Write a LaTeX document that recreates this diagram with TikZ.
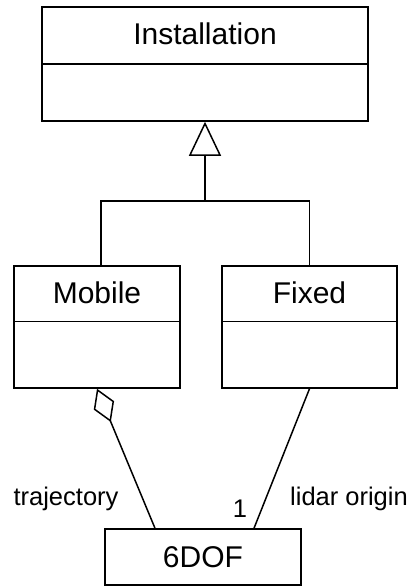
\documentclass[tikz,border=0pt]{standalone}
\usepackage{fontspec}
\setmainfont{Liberation Sans}
\usetikzlibrary{arrows.meta}

\begin{document}
\begin{tikzpicture}[x=1pt, y=-1pt, line width=1.5pt,
    classbox/.style={draw, rectangle, inner sep=0pt},
    classname/.style={font=\fontsize{30}{36}\selectfont, inner sep=0pt},
    rolelabel/.style={font=\fontsize{25.5}{30}\selectfont, inner sep=0pt, anchor=base}]
\useasboundingbox (0,0) rectangle (411,587);
% classes
\node[classbox, minimum width=326pt, minimum height=114pt] (inst) at (205,64) {};
\draw (inst.west) -- (inst.east);
\node[classname] (insttitle) at ([yshift=-28pt]inst.north) {Installation};

\node[classbox, minimum width=166pt, minimum height=122pt] (mobile) at (97,327) {};
\draw ([yshift=-56pt]mobile.north west) -- ([yshift=-56pt]mobile.north east);
\node[classname] (mobiletitle) at ([yshift=-28pt]mobile.north) {Mobile};

\node[classbox, minimum width=175pt, minimum height=122pt] (fixed) at (309.5,327) {};
\draw ([yshift=-56pt]fixed.north west) -- ([yshift=-56pt]fixed.north east);
\node[classname] (fixedtitle) at ([yshift=-28pt]fixed.north) {Fixed};

\node[classbox, classname, minimum width=196pt, minimum height=56pt] (dof) at (203,557) {6DOF};

% generalization
\coordinate (join) at (205,201);
\draw[-{Triangle[open,length=34pt,width=32pt]}] (join) -- (inst.south);
\draw ([xshift=4pt]mobile.north) |- (join) -| (fixed.north);

% associations
\draw[{Diamond[open,length=36pt,width=22pt]}-] (mobile.south) -- ([xshift=-48pt]dof.north);
\draw (fixed.south) -- ([xshift=51pt]dof.north);
\node[rolelabel] (trajlabel) at (66,505) {trajectory};
\node[rolelabel] (multlabel) at (240,517) {1};
\node[rolelabel] (lidarlabel) at (349,505) {lidar origin};
\end{tikzpicture}
\end{document}
